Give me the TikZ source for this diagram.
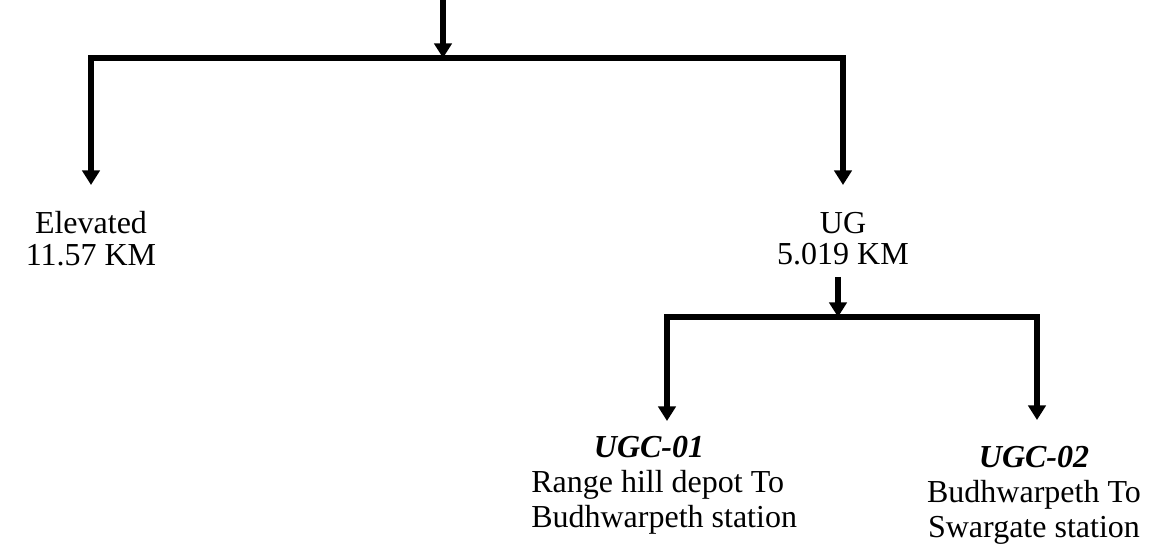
\documentclass[tikz,border=0pt]{standalone}
\usepackage{fontspec}
\setmainfont{Liberation Serif}
\usetikzlibrary{arrows.meta}

\begin{document}
\begin{tikzpicture}[x=0.75pt, y=-0.75pt,
    down/.style={line width=4.3pt, -{Triangle[width=13pt,length=11pt]}},
    txt/.style={font=\fontsize{24}{24}\selectfont, inner sep=0pt, anchor=base},
    txtb/.style={txt, font=\fontsize{24}{26}\selectfont}]
    \useasboundingbox (0,0) rectangle (1154,549);

    % top level split
    \coordinate (in) at (443,0);
    \coordinate (split) at (443,58);
    \coordinate (elevtip) at (91,185);
    \coordinate (ugtip) at (843,185);
    \draw[down] (split) -| (elevtip);
    \draw[down] (split) -| (ugtip);
    \draw[down] (in) -- (split);

    \node[txt, align=center] (elev) at (91,266) {Elevated\\11.57 KM};
    \node[txt, align=center] (ug) at (843,265) {UG\\5.019 KM};

    % UG split
    \coordinate (ugout) at (838,277);
    \coordinate (ugsplit) at (838,317);
    \coordinate (ugcatip) at (667,421);
    \coordinate (ugcbtip) at (1037,420);
    \draw[down] (ugsplit) -| (ugcatip);
    \draw[down] (ugsplit) -| (ugcbtip);
    \draw[down] (ugout) -- (ugsplit);

    \node[txtb, anchor=base west, align=left] (ugca) at (531,527)
        {\hspace*{47pt}\textbf{\textit{UGC-01}}\\Range hill depot To\\Budhwarpeth station};
    \node[txtb, align=center] (ugcb) at (1034,537)
        {\textbf{\textit{UGC-02}}\\Budhwarpeth To\\Swargate station};
\end{tikzpicture}
\end{document}
